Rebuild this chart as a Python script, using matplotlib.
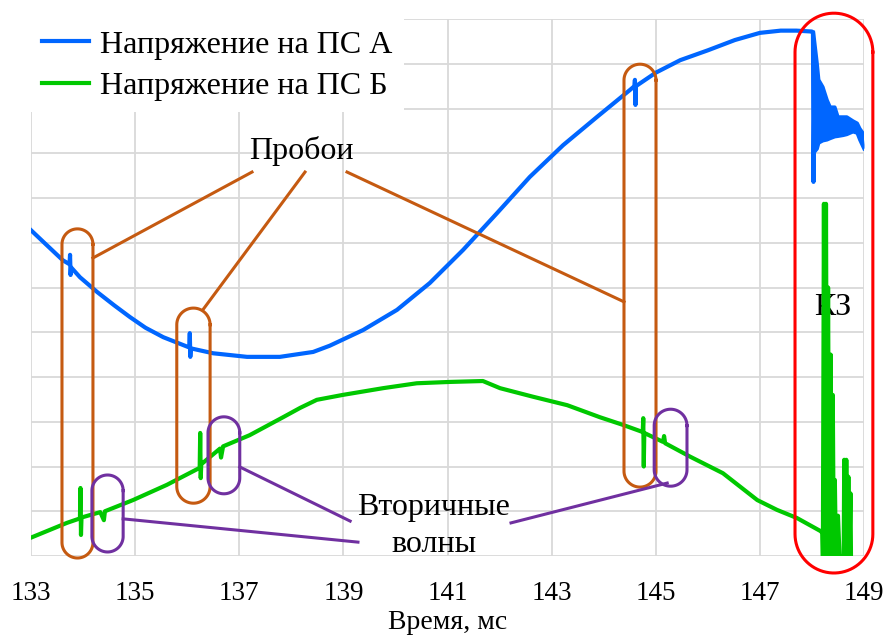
import matplotlib
matplotlib.use("Agg")
import matplotlib.pyplot as plt
import numpy as np

plt.rcParams['font.family'] = ['Liberation Serif', 'DejaVu Serif']

# Напряжение на ПС А (time in ms, value in grid units)
t_a = [133.00, 133.30, 133.61, 133.74, 133.75, 133.76, 133.77, 133.94, 134.27, 134.60,
       134.90, 135.20, 135.54, 136.04, 136.05, 136.06, 136.07, 136.50, 137.15, 137.78,
       138.42, 138.74, 139.38, 140.03, 140.66, 141.30, 141.95, 142.58, 143.22, 143.87,
       144.50, 144.59, 144.60, 144.61, 144.62, 145.00, 145.47, 146.00, 146.52, 147.00,
       147.40, 147.70, 148.00, 148.02, 148.03, 148.05]
u_a = [7.28, 6.95, 6.61, 6.52, 6.73, 6.28, 6.45, 6.23, 5.90, 5.60,
       5.34, 5.10, 4.89, 4.66, 4.98, 4.45, 4.64, 4.53, 4.45, 4.45,
       4.56, 4.70, 5.05, 5.50, 6.10, 6.84, 7.66, 8.47, 9.18, 9.81,
       10.41, 10.50, 10.64, 10.08, 10.50, 10.80, 11.08, 11.30, 11.53, 11.69,
       11.74, 11.74, 11.72, 11.70, 8.36, 10.90]

# ПС А after the fault: envelope of the oscillation
t_a_kz = [148.03, 148.10, 148.13, 148.21, 148.29, 148.35, 148.44, 148.50, 148.60,
          148.67, 148.79, 148.87, 148.92, 148.98, 149.00]
u_a_kz_hi = [11.70, 11.00, 10.64, 10.48, 10.19, 10.03, 10.03, 9.81, 9.81,
             9.81, 9.72, 9.67, 9.55, 9.45, 9.20]
u_a_kz_lo = [9.00, 9.10, 9.23, 9.28, 9.30, 9.33, 9.37, 9.38, 9.40,
             9.42, 9.48, 9.45, 9.30, 9.15, 9.10]

# Напряжение на ПС Б
t_b = [133.02, 133.69, 133.94, 133.95, 133.96, 133.97, 134.33, 134.40, 134.42, 134.96,
       135.61, 136.24, 136.25, 136.26, 136.27, 136.63, 136.65, 136.69, 137.20, 137.84,
       138.17, 138.49, 138.99, 139.76, 140.41, 141.05, 141.68, 142.01, 142.64, 143.30,
       143.93, 144.37, 144.75, 144.76, 144.77, 144.78, 145.14, 145.16, 145.18, 145.66,
       146.29, 146.95, 147.33, 147.71, 148.16, 148.20,
       148.21, 148.23, 148.25, 148.27, 148.29, 148.31, 148.33, 148.36, 148.38, 148.40,
       148.42, 148.44, 148.46, 148.50, 148.53, 148.61, 148.62, 148.64, 148.66, 148.68,
       148.70, 148.72, 148.74, 148.75]
u_b = [0.42, 0.74, 0.84, 1.52, 0.47, 0.86, 0.98, 0.80, 1.00, 1.25,
       1.59, 1.97, 2.75, 1.74, 2.05, 2.40, 2.20, 2.45, 2.70, 3.10,
       3.31, 3.49, 3.60, 3.75, 3.86, 3.89, 3.91, 3.75, 3.56, 3.37,
       3.10, 2.93, 2.77, 3.08, 2.00, 2.75, 2.55, 2.68, 2.52, 2.22,
       1.85, 1.25, 1.03, 0.85, 0.56, 0.52,
       0.00, 7.87, 0.00, 7.87, 0.00, 6.00, 0.00, 4.50, 0.00, 3.60,
       0.00, 1.70, 0.00, 0.90, 0.00, 0.00, 2.15, 0.00, 2.15, 0.00,
       1.77, 0.00, 1.40, 0.00]

x_ticks = [133, 135, 137, 139, 141, 143, 145, 147, 149]

# annotation outlines: (t0, t1, v0, v1)
breakdown_boxes = [(133.595, 134.19, -0.045, 7.31),
                   (135.80, 136.44, 1.18, 5.54),
                   (144.39, 145.005, 1.54, 10.99)]
wave_boxes = [(134.17, 134.77, 0.09, 1.81),
              (136.40, 137.01, 1.39, 3.11),
              (144.97, 145.60, 1.56, 3.28)]
fault_box = (147.675, 149.17, -0.38, 12.13)

breakdown_leaders = [((137.245, 8.58), (134.19, 6.66)),
                     ((138.263, 8.58), (136.30, 5.50)),
                     ((139.07, 8.58), (144.39, 5.68))]
wave_leaders = [((134.77, 0.83), (139.28, 0.31)),
                ((137.01, 1.99), (139.13, 0.78)),
                ((142.22, 0.74), (145.22, 1.63))]

BLUE = '#0066FF'
GREEN = '#00C800'
ORANGE = '#C55A11'
PURPLE = '#7030A0'
RED = '#FF0000'

fig = plt.figure(figsize=(8.86, 6.35), dpi=100)
ax = fig.add_axes([31 / 886, 1 - 556 / 635, 833 / 886, 537 / 635])

ax.plot(t_a, u_a, color=BLUE, lw=3, label='Напряжение на ПС А', zorder=3)
ax.fill_between(t_a_kz, u_a_kz_lo, u_a_kz_hi, color=BLUE, lw=0, zorder=3)
ax.plot(t_a_kz, u_a_kz_hi, color=BLUE, lw=2.5, zorder=3)
ax.plot(t_a_kz, u_a_kz_lo, color=BLUE, lw=2.5, zorder=3)
ax.plot(t_b, u_b, color=GREEN, lw=3, label='Напряжение на ПС Б', zorder=3)

ax.set_xlim(133, 149)
ax.set_ylim(0, 12)
ax.set_xticks(x_ticks)
ax.set_yticks(np.arange(0, 13, 1))
ax.set_yticklabels([])
ax.tick_params(axis='both', length=0)
ax.tick_params(axis='x', labelsize=19.5, pad=18)
ax.grid(True, color='#D9D9D9', lw=1.3)
ax.set_axisbelow(True)
for s in ax.spines.values():
    s.set_visible(False)
ax.set_xlabel('Время, мс', fontsize=20, labelpad=3)


def stadium(box, color):
    t0, t1, v0, v1 = box
    (x0, y0), (x1, y1) = ax.transData.transform([(t0, v0), (t1, v1)])
    r = (x1 - x0) / 2
    xc = (x0 + x1) / 2
    a = np.linspace(0, np.pi, 40)
    top = np.column_stack([xc + r * np.cos(a), y1 - r + r * np.sin(a)])
    bot = np.column_stack([xc - r * np.cos(a), y0 + r - r * np.sin(a)])
    pts = np.vstack([top, bot, top[:1]])
    d = ax.transData.inverted().transform(pts)
    ax.plot(d[:, 0], d[:, 1], color=color, lw=2.2, clip_on=False, zorder=4)


for b in breakdown_boxes:
    stadium(b, ORANGE)
for b in wave_boxes:
    stadium(b, PURPLE)
stadium(fault_box, RED)

for (p, q) in breakdown_leaders:
    ax.plot([p[0], q[0]], [p[1], q[1]], color=ORANGE, lw=2.2, zorder=4)
for (p, q) in wave_leaders:
    ax.plot([p[0], q[0]], [p[1], q[1]], color=PURPLE, lw=2.2, zorder=4)

ax.text(138.2, 8.87, 'Пробои', fontsize=23, ha='center', va='baseline', zorder=5)
ax.text(140.74, 0.92, 'Вторичные', fontsize=23, ha='center', va='baseline', zorder=5)
ax.text(140.74, 0.09, 'волны', fontsize=23, ha='center', va='baseline', zorder=5)
ax.text(148.405, 5.39, 'КЗ', fontsize=23, ha='center', va='baseline', zorder=2)

leg = ax.legend(loc='upper left', bbox_to_anchor=(0, 1), borderaxespad=0,
                fontsize=23, handlelength=1.47, handletextpad=0.35,
                labelspacing=0.38, borderpad=0.35, frameon=True, fancybox=False)
leg.get_frame().set_facecolor('white')
leg.get_frame().set_edgecolor('none')
leg.get_frame().set_alpha(1)
for line in leg.get_lines():
    line.set_linewidth(3)

fig.savefig('out.png', dpi=100)
